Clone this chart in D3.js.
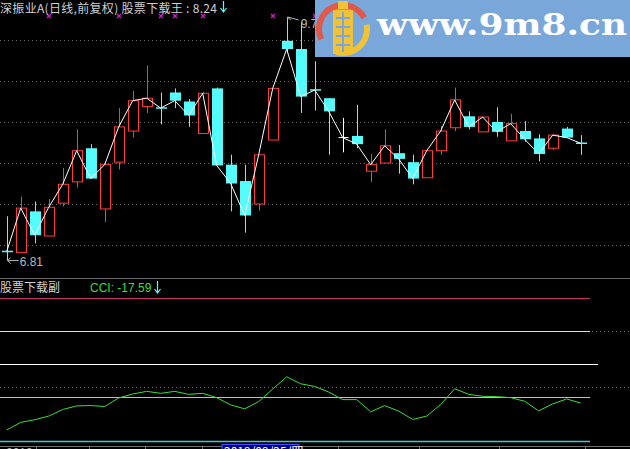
<!DOCTYPE html>
<html><head><meta charset="utf-8">
<script src="https://cdn.jsdelivr.net/npm/d3@7/dist/d3.min.js"></script>
<style>html,body{margin:0;padding:0;background:#000;}svg{display:block;}</style>
</head><body>
<svg id="c" width="630" height="449"></svg>
<script>
// ---- data ----
const opens  = [6.93,6.91,7.41,7.11,7.51,7.77,8.18,7.44,8.01,8.39,8.69,8.68,8.86,8.75,8.36,8.91,7.98,7.78,7.50,8.28,9.49,9.39,8.90,8.79,8.31,8.33,7.90,8.00,8.12,8.01,7.82,8.15,8.43,8.57,8.38,8.50,8.27,8.39,8.30,8.18,8.42,8.25];
const highs  = [7.35,7.59,7.53,7.56,7.94,8.41,8.23,8.00,8.67,8.88,9.19,8.86,8.91,8.78,8.87,8.92,8.10,7.98,8.10,8.91,9.78,9.72,9.24,8.79,8.55,8.71,8.11,8.41,8.22,8.10,8.15,8.45,8.92,8.63,8.56,8.68,8.60,8.51,8.35,8.34,8.44,8.34];
const lows   = [6.81,6.91,7.02,7.11,7.47,7.70,7.81,7.28,7.92,8.31,8.61,8.47,8.67,8.44,8.36,7.97,7.41,7.15,7.42,8.28,9.34,8.61,8.64,8.10,8.13,8.18,7.77,8.00,7.87,7.74,7.82,8.10,8.39,8.41,8.38,8.32,8.27,8.26,8.02,8.16,8.31,8.10];
const closes = [6.92,7.45,7.12,7.46,7.74,8.15,7.81,7.98,8.44,8.76,8.79,8.67,8.76,8.58,8.85,7.97,7.75,7.36,8.10,8.91,9.39,8.81,8.89,8.63,8.31,8.23,7.98,8.21,8.05,7.81,8.15,8.39,8.77,8.44,8.56,8.38,8.48,8.29,8.11,8.34,8.31,8.24];
const cci    = [-99,-76,-68,-57,-37,-26,-25,-28,-2,10,18,12,18,9,12,-1,-23,-35,-13,25,62,41,33,16,-7,-7,-44,-25,-42,-67,-57,-22,26,9,3,2,-1,-12,-41,-20,-5,-17.59];
const markerIdx = [3,8,11,12,14,19,22];          // magenta x markers (0-based candle index)
const priceGrid = [7.0,7.5,8.0,8.5,9.0,9.5];
const cciLevels = [300,200,100,0,-133.3];
const cciLevelColors = ["#c8306e","#e8e880","#ffffff","#b8b8ff","#40c8d0"];
const cciGrid = [200,32];
const mainTitle = "深振业A(日线,前复权) 股票下载王 : 8.24";
const subTitle = "股票下载副";
const cciLabel = "CCI: -17.59";
const lowLabel = "6.81", highLabel = "9.78";
const axisTicksX = [36,89,145,202,338,419,499,585];
const dateLabel = "2019/09/25/四";

// ---- scales ----
const svg = d3.select("#c");
svg.append("rect").attr("width",630).attr("height",449).attr("fill","#000");
const n = closes.length;
const x = d3.scaleLinear().domain([0,n-1]).range([6.7,580.7]);
const y = d3.scaleLinear().domain([7.0,9.5]).range([245,40]);
const yc = d3.scaleLinear().domain([0,300]).range([397.3,298.3]);
const bw = 10;

// grid lines main
svg.append("g").selectAll("line").data(priceGrid).join("line")
  .attr("x1",0).attr("x2",630).attr("y1",d=>Math.round(y(d))+0.5).attr("y2",d=>Math.round(y(d))+0.5)
  .attr("stroke","#6a6a6a").attr("stroke-dasharray","1,3");

// separator
svg.append("line").attr("x1",0).attr("x2",630).attr("y1",278.5).attr("y2",278.5).attr("stroke","#666");

// candles
const cg = svg.append("g");
const data = closes.map((c,i)=>({i,o:opens[i],h:highs[i],l:lows[i],c}));
data.forEach(d=>{
  const cx = Math.round(x(d.i))+0.5;
  const top = y(Math.max(d.o,d.c)), bot = y(Math.min(d.o,d.c));
  if (d.c > d.o) {
    const col = "#ff3c3c";
    cg.append("line").attr("x1",cx).attr("x2",cx).attr("y1",y(d.h)).attr("y2",top).attr("stroke",col);
    cg.append("line").attr("x1",cx).attr("x2",cx).attr("y1",bot).attr("y2",y(d.l)).attr("stroke",col);
    cg.append("rect").attr("x",cx-bw/2).attr("y",top).attr("width",bw).attr("height",Math.max(1,bot-top))
      .attr("fill","#000").attr("stroke",col);
  } else if (d.c < d.o) {
    const col = "#54fcfc";
    cg.append("line").attr("x1",cx).attr("x2",cx).attr("y1",y(d.h)).attr("y2",y(d.l)).attr("stroke",col);
    cg.append("rect").attr("x",cx-bw/2-0.5).attr("y",top).attr("width",bw+1).attr("height",Math.max(1.5,bot-top))
      .attr("fill",col);
  } else {
    const col = "#ffffff";
    cg.append("line").attr("x1",cx).attr("x2",cx).attr("y1",y(d.h)).attr("y2",y(d.l)).attr("stroke",col);
    cg.append("line").attr("x1",cx-bw/2).attr("x2",cx+bw/2).attr("y1",y(d.c)).attr("y2",y(d.c)).attr("stroke",col);
  }
});

// close line
svg.append("path").datum(closes)
  .attr("d",d3.line().x((d,i)=>x(i)).y(d=>y(d)))
  .attr("fill","none").attr("stroke","#ffffff").attr("stroke-width",1);

// magenta markers
const mg = svg.append("g");
markerIdx.forEach(i=>{
  const mx = Math.round(x(i)), my = 16;
  mg.append("path").attr("d",`M${mx-2},${my-2}L${mx+2},${my+2}M${mx+2},${my-2}L${mx-2},${my+2}`)
    .attr("stroke","#d020d0").attr("stroke-width",1.2);
});

// low / high labels
const iLow = d3.minIndex(lows), iHigh = d3.maxIndex(highs);
const lx = x(iLow), ly = y(lows[iLow]);
svg.append("path").attr("d",`M${lx+12},${ly}L${lx+1},${ly}M${lx+1},${ly}L${lx+4},${ly-3}M${lx+1},${ly}L${lx+4},${ly+3}`)
  .attr("stroke","#b8b8b8").attr("fill","none");
svg.append("text").attr("x",lx+13).attr("y",ly+5).text(lowLabel)
  .attr("fill","#b8b8b8").attr("font-family","Liberation Sans, Arial, sans-serif").attr("font-size",12);
const hx = x(iHigh), hy = y(highs[iHigh]);
svg.append("path").attr("d",`M${hx+1},${hy+3}L${hx+1},${hy}L${hx+12},${hy+3}M${hx+1},${hy}L${hx+4},${hy+3}`)
  .attr("stroke","#b8b8b8").attr("fill","none");
svg.append("text").attr("x",hx+14).attr("y",hy+11).text(highLabel)
  .attr("fill","#b8b8b8").attr("font-family","Liberation Sans, Arial, sans-serif").attr("font-size",12);

// titles
svg.append("text").attr("x",0).attr("y",13).text(mainTitle)
  .attr("fill","#d0d0d0").attr("font-family","Noto Sans CJK SC, sans-serif").attr("font-size",12)
  .attr("textLength",217).attr("lengthAdjust","spacing");
function downArrow(ax, y0, y1){
  svg.append("path").attr("d",`M${ax},${y0}L${ax},${y1}M${ax-3},${y1-4}L${ax},${y1}L${ax+3},${y1-4}`)
    .attr("stroke","#54fcfc").attr("fill","none").attr("stroke-width",1.2);
}
downArrow(223.5,1,12);
svg.append("text").attr("x",0).attr("y",292).text(subTitle)
  .attr("fill","#d0d0d0").attr("font-family","Noto Sans CJK SC, sans-serif").attr("font-size",12);
svg.append("text").attr("x",90).attr("y",292).text(cciLabel)
  .attr("fill","#3cdc3c").attr("font-family","Liberation Sans, Arial, sans-serif").attr("font-size",12);
downArrow(157.5,281,293);

// sub chart grid
svg.append("g").selectAll("line").data(cciGrid).join("line")
  .attr("x1",0).attr("x2",630).attr("y1",d=>Math.round(yc(d))+0.5).attr("y2",d=>Math.round(yc(d))+0.5)
  .attr("stroke","#6a6a6a").attr("stroke-dasharray","1,3");
// level lines
svg.append("g").selectAll("line").data(cciLevels).join("line")
  .attr("x1",0).attr("x2",(d,i)=>i===2?598:590)
  .attr("y1",d=>Math.round(yc(d))+0.5).attr("y2",d=>Math.round(yc(d))+0.5)
  .attr("stroke",(d,i)=>cciLevelColors[i]).attr("stroke-width",(d,i)=>i===4?1.5:1);

// cci line
svg.append("path").datum(cci)
  .attr("d",d3.line().x((d,i)=>x(i)).y(d=>yc(d)))
  .attr("fill","none").attr("stroke","#3cdc3c").attr("stroke-width",1);

// bottom axis
svg.append("line").attr("x1",0).attr("x2",630).attr("y1",446.5).attr("y2",446.5).attr("stroke","#707070");
svg.append("g").selectAll("line").data(axisTicksX).join("line")
  .attr("x1",d=>d+0.5).attr("x2",d=>d+0.5).attr("y1",446).attr("y2",449).attr("stroke","#707070");
svg.append("text").attr("x",6).attr("y",457).text("2019").attr("fill","#b0b0b0")
  .attr("font-family","Liberation Sans, Arial, sans-serif").attr("font-size",12);
svg.append("rect").attr("x",222).attr("y",444.5).attr("width",77).attr("height",10)
  .attr("fill","#000090").attr("stroke","#5050ff");
svg.append("text").attr("x",224).attr("y",456).text(dateLabel).attr("fill","#ffffff")
  .attr("font-family","Noto Sans CJK SC, sans-serif").attr("font-size",12);

// watermark logo
const lg = svg.append("g");
lg.append("rect").attr("x",315).attr("y",0).attr("width",315).attr("height",57).attr("fill","#7aa7d9");
const arc = d3.arc().innerRadius(21).outerRadius(27);
lg.append("path").attr("transform","translate(343,29)")
  .attr("d",arc({startAngle:-115*Math.PI/180,endAngle:62*Math.PI/180})).attr("fill","#e0594a");
lg.append("path").attr("transform","translate(343,29)")
  .attr("d",arc({startAngle:80*Math.PI/180,endAngle:195*Math.PI/180})).attr("fill","#f0c238");
lg.append("rect").attr("x",338).attr("y",1).attr("width",10).attr("height",8).attr("fill","#f0c238");
lg.append("rect").attr("x",333).attr("y",10).attr("width",20).attr("height",44).attr("fill","#f0c238");
lg.append("path").attr("d","M336,18H350M336,27H350M336,36H350M343,12V52M336,45H350")
  .attr("stroke","#7aa7d9").attr("stroke-width",2);
lg.append("text").attr("x",377).attr("y",35).text("www.9m8.cn")
  .attr("fill","#ffffff").attr("font-family","DejaVu Serif, serif").attr("font-weight","bold")
  .attr("font-size",30).attr("textLength",250).attr("lengthAdjust","spacingAndGlyphs");
</script>
</body></html>
